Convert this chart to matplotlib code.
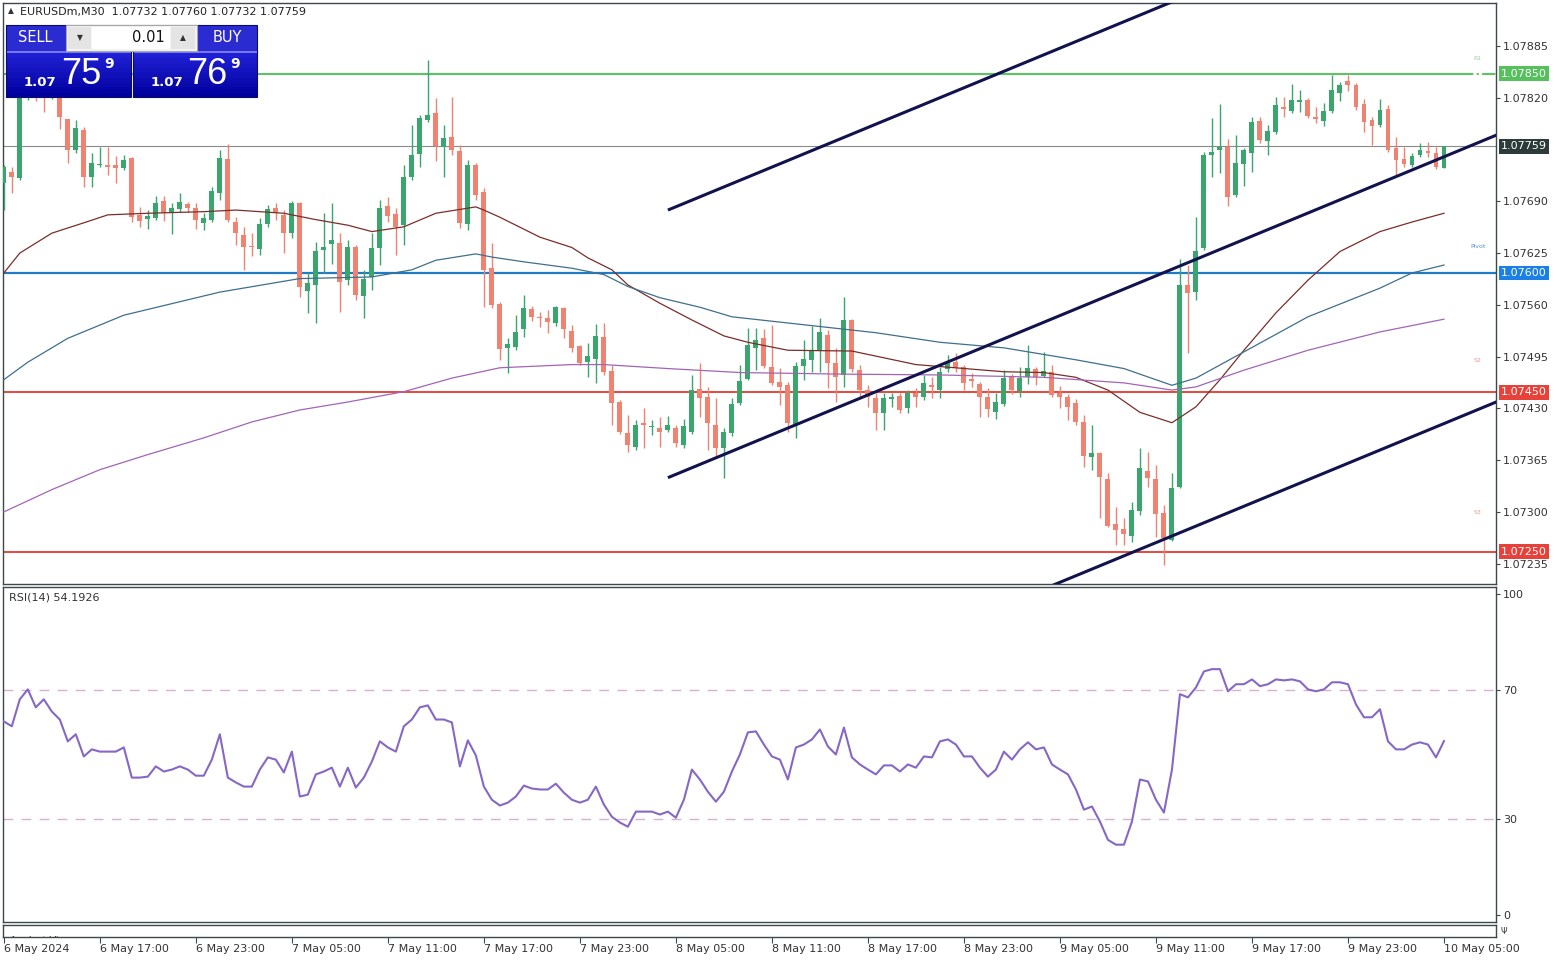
import numpy as np
import pandas as pd
import matplotlib
matplotlib.use("Agg")
from matplotlib import pyplot as plt
from matplotlib.patches import Rectangle

# EURUSDm M30, 6 May 11:00 .. 10 May 05:00
opens = [
    1.07713, 1.07727, 1.07719, 1.07824, 1.07832, 1.07827, 1.07822, 1.07830, 1.07793, 1.07755,
    1.07780, 1.07721, 1.07735, 1.07736, 1.07735, 1.07732, 1.07745, 1.07673, 1.07668, 1.07669,
    1.07690, 1.07675, 1.07680, 1.07687, 1.07682, 1.07663, 1.07667, 1.07701, 1.07743, 1.07664,
    1.07648, 1.07634, 1.07630, 1.07662, 1.07682, 1.07673, 1.07650, 1.07688, 1.07578, 1.07585,
    1.07629, 1.07637, 1.07638, 1.07591, 1.07633, 1.07571, 1.07595, 1.07632, 1.07684, 1.07674,
    1.07660, 1.07721, 1.07750, 1.07792, 1.07801, 1.07758, 1.07771, 1.07753, 1.07662, 1.07735,
    1.07702, 1.07606, 1.07561, 1.07506, 1.07507, 1.07530, 1.07555, 1.07545, 1.07544, 1.07537,
    1.07556, 1.07527, 1.07508, 1.07488, 1.07492, 1.07520, 1.07477, 1.07438, 1.07399, 1.07382,
    1.07412, 1.07407, 1.07405, 1.07403, 1.07405, 1.07384, 1.07400, 1.07454, 1.07444, 1.07409,
    1.07380, 1.07399, 1.07437, 1.07467, 1.07506, 1.07518, 1.07482, 1.07463, 1.07459, 1.07410,
    1.07483, 1.07491, 1.07502, 1.07522, 1.07487, 1.07472, 1.07541, 1.07478, 1.07453, 1.07443,
    1.07424, 1.07442, 1.07446, 1.07431, 1.07449, 1.07444, 1.07459, 1.07453, 1.07480, 1.07488,
    1.07482, 1.07467, 1.07461, 1.07444, 1.07425, 1.07436, 1.07469, 1.07452, 1.07469, 1.07480,
    1.07471, 1.07476, 1.07449, 1.07444, 1.07437, 1.07413, 1.07369, 1.07374, 1.07341, 1.07285,
    1.07279, 1.07270, 1.07301, 1.07351, 1.07341, 1.07299, 1.07265, 1.07331, 1.07585, 1.07576,
    1.07632, 1.07748, 1.07755, 1.07758, 1.07698, 1.07737, 1.07751, 1.07791, 1.07766, 1.07777,
    1.07809, 1.07804, 1.07815, 1.07817, 1.07796, 1.07791, 1.07804, 1.07826, 1.07841, 1.07836,
    1.07812, 1.07792, 1.07786, 1.07806, 1.07757, 1.07743, 1.07735, 1.07748, 1.07753, 1.07751,
    1.07732]
highs = [
    1.07736, 1.07733, 1.07835, 1.07842, 1.07840, 1.07836, 1.07835, 1.07832, 1.07793, 1.07792,
    1.07783, 1.07751, 1.07758, 1.07758, 1.07747, 1.07748, 1.07746, 1.07683, 1.07679, 1.07697,
    1.07697, 1.07688, 1.07701, 1.07689, 1.07688, 1.07675, 1.07708, 1.07755, 1.07762, 1.07670,
    1.07658, 1.07650, 1.07669, 1.07685, 1.07688, 1.07679, 1.07690, 1.07689, 1.07600, 1.07639,
    1.07675, 1.07688, 1.07650, 1.07642, 1.07635, 1.07604, 1.07650, 1.07692, 1.07696, 1.07682,
    1.07736, 1.07786, 1.07799, 1.07868, 1.07820, 1.07786, 1.07821, 1.07761, 1.07742, 1.07738,
    1.07707, 1.07638, 1.07564, 1.07518, 1.07547, 1.07572, 1.07559, 1.07551, 1.07554, 1.07559,
    1.07557, 1.07535, 1.07510, 1.07512, 1.07536, 1.07537, 1.07485, 1.07441, 1.07422, 1.07415,
    1.07431, 1.07415, 1.07419, 1.07420, 1.07409, 1.07417, 1.07472, 1.07487, 1.07457, 1.07443,
    1.07405, 1.07443, 1.07485, 1.07531, 1.07531, 1.07530, 1.07535, 1.07481, 1.07463, 1.07488,
    1.07516, 1.07533, 1.07544, 1.07528, 1.07506, 1.07570, 1.07542, 1.07485, 1.07459, 1.07449,
    1.07449, 1.07449, 1.07449, 1.07453, 1.07456, 1.07472, 1.07469, 1.07482, 1.07497, 1.07500,
    1.07485, 1.07475, 1.07463, 1.07456, 1.07449, 1.07478, 1.07473, 1.07482, 1.07510, 1.07482,
    1.07501, 1.07485, 1.07458, 1.07448, 1.07442, 1.07422, 1.07409, 1.07375, 1.07349, 1.07306,
    1.07292, 1.07312, 1.07380, 1.07375, 1.07359, 1.07309, 1.07349, 1.07618, 1.07610, 1.07670,
    1.07752, 1.07795, 1.07812, 1.07768, 1.07773, 1.07757, 1.07796, 1.07796, 1.07786, 1.07821,
    1.07821, 1.07837, 1.07830, 1.07820, 1.07809, 1.07814, 1.07849, 1.07840, 1.07849, 1.07839,
    1.07819, 1.07796, 1.07819, 1.07811, 1.07771, 1.07758, 1.07751, 1.07763, 1.07765, 1.07758,
    1.07760]
lows = [
    1.07679, 1.07701, 1.07717, 1.07817, 1.07816, 1.07802, 1.07819, 1.07781, 1.07738, 1.07751,
    1.07708, 1.07708, 1.07733, 1.07723, 1.07713, 1.07729, 1.07664, 1.07658, 1.07655, 1.07667,
    1.07665, 1.07649, 1.07677, 1.07677, 1.07655, 1.07654, 1.07664, 1.07692, 1.07664, 1.07635,
    1.07604, 1.07621, 1.07623, 1.07658, 1.07667, 1.07625, 1.07644, 1.07570, 1.07550, 1.07537,
    1.07600, 1.07611, 1.07551, 1.07585, 1.07566, 1.07544, 1.07579, 1.07610, 1.07664, 1.07623,
    1.07635, 1.07717, 1.07733, 1.07790, 1.07740, 1.07721, 1.07748, 1.07657, 1.07654, 1.07692,
    1.07557, 1.07556, 1.07491, 1.07475, 1.07503, 1.07520, 1.07540, 1.07532, 1.07525, 1.07533,
    1.07518, 1.07501, 1.07485, 1.07469, 1.07462, 1.07472, 1.07409, 1.07398, 1.07375, 1.07378,
    1.07380, 1.07397, 1.07382, 1.07400, 1.07382, 1.07380, 1.07398, 1.07419, 1.07378, 1.07368,
    1.07343, 1.07395, 1.07434, 1.07466, 1.07478, 1.07481, 1.07459, 1.07434, 1.07400, 1.07393,
    1.07466, 1.07476, 1.07476, 1.07456, 1.07438, 1.07457, 1.07476, 1.07443, 1.07432, 1.07403,
    1.07403, 1.07432, 1.07424, 1.07424, 1.07432, 1.07441, 1.07443, 1.07443, 1.07476, 1.07476,
    1.07453, 1.07457, 1.07419, 1.07419, 1.07417, 1.07433, 1.07448, 1.07444, 1.07461, 1.07459,
    1.07469, 1.07444, 1.07431, 1.07415, 1.07409, 1.07356, 1.07353, 1.07292, 1.07281, 1.07258,
    1.07258, 1.07262, 1.07296, 1.07331, 1.07268, 1.07233, 1.07264, 1.07330, 1.07500, 1.07566,
    1.07629, 1.07721, 1.07726, 1.07684, 1.07696, 1.07709, 1.07727, 1.07763, 1.07748, 1.07775,
    1.07796, 1.07801, 1.07802, 1.07795, 1.07788, 1.07785, 1.07801, 1.07816, 1.07829, 1.07805,
    1.07777, 1.07761, 1.07783, 1.07752, 1.07723, 1.07733, 1.07733, 1.07746, 1.07746, 1.07731,
    1.07732]
closes = [
    1.07733, 1.07721, 1.07824, 1.07832, 1.07827, 1.07822, 1.07830, 1.07796, 1.07755, 1.07782,
    1.07721, 1.07738, 1.07737, 1.07733, 1.07732, 1.07742, 1.07670, 1.07665, 1.07672, 1.07688,
    1.07675, 1.07682, 1.07689, 1.07682, 1.07667, 1.07669, 1.07703, 1.07745, 1.07667, 1.07650,
    1.07633, 1.07633, 1.07662, 1.07680, 1.07675, 1.07650, 1.07688, 1.07583, 1.07588, 1.07627,
    1.07633, 1.07642, 1.07589, 1.07633, 1.07572, 1.07593, 1.07632, 1.07682, 1.07672, 1.07658,
    1.07721, 1.07748, 1.07795, 1.07799, 1.07760, 1.07770, 1.07755, 1.07663, 1.07735, 1.07698,
    1.07604, 1.07560, 1.07505, 1.07511, 1.07526, 1.07556, 1.07545, 1.07544, 1.07539, 1.07557,
    1.07530, 1.07506, 1.07487, 1.07496, 1.07521, 1.07476, 1.07437, 1.07400, 1.07384, 1.07409,
    1.07409, 1.07408, 1.07400, 1.07409, 1.07387, 1.07408, 1.07453, 1.07443, 1.07412, 1.07380,
    1.07400, 1.07436, 1.07464, 1.07510, 1.07516, 1.07483, 1.07462, 1.07457, 1.07412, 1.07483,
    1.07492, 1.07502, 1.07526, 1.07487, 1.07469, 1.07541, 1.07480, 1.07453, 1.07444, 1.07424,
    1.07443, 1.07444, 1.07428, 1.07449, 1.07444, 1.07462, 1.07457, 1.07476, 1.07488, 1.07481,
    1.07462, 1.07464, 1.07444, 1.07429, 1.07438, 1.07468, 1.07453, 1.07468, 1.07481, 1.07469,
    1.07477, 1.07447, 1.07444, 1.07432, 1.07413, 1.07370, 1.07374, 1.07344, 1.07282, 1.07277,
    1.07272, 1.07302, 1.07355, 1.07343, 1.07297, 1.07267, 1.07330, 1.07585, 1.07575, 1.07627,
    1.07748, 1.07752, 1.07758, 1.07696, 1.07738, 1.07755, 1.07790, 1.07767, 1.07778, 1.07811,
    1.07806, 1.07817, 1.07817, 1.07797, 1.07793, 1.07804, 1.07830, 1.07836, 1.07836, 1.07809,
    1.07790, 1.07785, 1.07805, 1.07755, 1.07742, 1.07737, 1.07747, 1.07755, 1.07751, 1.07733,
    1.07759]
rsi = [
    60.3, 58.8, 67.2, 70.3, 64.7, 67.2, 63.4, 60.9, 54.1, 56.3,
    49.4, 51.6, 50.9, 50.9, 50.9, 52.2, 42.8, 42.8, 43.1, 46.3,
    44.7, 45.3, 46.3, 45.3, 43.4, 43.4, 48.4, 56.3, 42.8, 41.3,
    40.0, 40.0, 45.3, 49.1, 48.4, 44.4, 50.9, 36.9, 37.5, 43.8,
    44.7, 45.9, 40.0, 45.9, 39.7, 42.8, 47.8, 54.1, 52.2, 50.9,
    58.8, 60.9, 64.7, 65.3, 60.9, 60.9, 60.0, 46.3, 54.4, 49.7,
    40.0, 35.9, 34.1, 35.0, 36.9, 40.3, 39.4, 39.1, 39.1, 40.9,
    38.1, 35.9, 35.0, 35.9, 40.0, 34.4, 30.6, 28.8, 27.5, 32.2,
    32.2, 32.2, 31.3, 32.2, 30.3, 35.9, 45.3, 42.2, 38.4, 35.3,
    38.4, 44.7, 50.0, 56.9, 57.2, 53.1, 49.4, 48.4, 42.2, 52.2,
    53.1, 54.7, 57.8, 52.5, 50.0, 58.4, 49.1, 46.9, 45.3, 43.8,
    46.6, 46.6, 44.7, 46.9, 45.9, 49.4, 49.1, 54.1, 54.7, 53.1,
    49.4, 49.4, 45.9, 43.1, 45.3, 50.9, 48.4, 51.6, 53.8, 51.6,
    52.2, 46.9, 45.3, 43.8, 39.1, 32.8, 33.8, 29.1, 23.4, 21.9,
    21.9, 29.1, 42.2, 41.6, 35.9, 31.9, 45.3, 68.8, 67.8, 70.9,
    75.9, 76.6, 76.6, 69.7, 71.9, 71.9, 73.4, 71.3, 71.9, 73.4,
    73.1, 73.4, 72.8, 70.3, 69.7, 70.3, 72.5, 72.5, 71.9, 65.6,
    61.6, 61.6, 64.1, 54.1, 51.6, 51.6, 53.1, 53.8, 53.1, 49.1,
    54.1926]

# moving averages (candle index, price)
ma_fast_idx = [0, 2, 6, 10, 13, 18, 25, 29, 35, 39, 43, 46, 50, 54, 59, 60, 62, 67, 71, 73,
               76, 78, 82, 86, 90, 93, 98, 106, 114, 125, 130, 134, 138, 142, 146, 149, 152,
               155, 159, 163, 167, 172, 176, 180]
ma_fast = [1.07600, 1.07625, 1.07650, 1.07663, 1.07673, 1.07675, 1.07677, 1.07679, 1.07675,
           1.07667, 1.07660, 1.07652, 1.07658, 1.07675, 1.07683, 1.07679, 1.07670, 1.07645,
           1.07632, 1.07619, 1.07604, 1.07585, 1.07562, 1.07541, 1.07521, 1.07513, 1.07503,
           1.07502, 1.07485, 1.07476, 1.07475, 1.07469, 1.07453, 1.07425, 1.07412, 1.07432,
           1.07466, 1.07503, 1.07550, 1.07591, 1.07627, 1.07652, 1.07664, 1.07675]
ma_mid_idx = [0, 3, 8, 15, 27, 37, 46, 51, 54, 59, 61, 65, 71, 75, 78, 82, 87, 91, 100, 109,
              117, 125, 134, 140, 146, 149, 155, 163, 172, 176, 180]
ma_mid = [1.07466, 1.07488, 1.07518, 1.07547, 1.07576, 1.07593, 1.07595, 1.07604, 1.07616,
          1.07624, 1.07620, 1.07614, 1.07606, 1.07598, 1.07583, 1.07569, 1.07557, 1.07545,
          1.07535, 1.07525, 1.07513, 1.07506, 1.07491, 1.07480, 1.07459, 1.07468, 1.07501,
          1.07545, 1.07581, 1.07600, 1.07610]
ma_slow_idx = [0, 6, 12, 18, 25, 31, 37, 43, 50, 56, 62, 71, 75, 83, 92, 105, 117, 130, 140,
               146, 149, 155, 163, 172, 180]
ma_slow = [1.07300, 1.07328, 1.07353, 1.07372, 1.07393, 1.07413, 1.07428, 1.07438, 1.07451,
           1.07468, 1.07481, 1.07485, 1.07485, 1.07480, 1.07475, 1.07473, 1.07472, 1.07469,
           1.07462, 1.07453, 1.07457, 1.07478, 1.07503, 1.07526, 1.07542]

# pivot levels
level_names = ["R1", "Pivot", "S2", "S3"]
level_values = [1.07850, 1.07600, 1.07450, 1.07250]
level_colors = ["#5cc463", "#1f7bc4", "#e8463c", "#e8463c"]
level_label_colors = ["#9ad39c", "#4d94d8", "#e59a92", "#e59a92"]
level_label_off = [15, 26, 32, 39]

# drawn channel (two points per line: candle index, price)
channel_lines = [
    ([83, 150], [1.07679, 1.07957]),
    ([83, 187], [1.07343, 1.07775]),
    ([128, 187], [1.07195, 1.07440]),
]

bid, ask = closes[-1], 1.07769
y_ticks = [1.07885, 1.07820, 1.07690, 1.07625, 1.07560, 1.07495, 1.07430, 1.07365, 1.07300, 1.07235]

GREEN = "#3aa56c"
RED = "#ef8271"
FRAME = "#3d4949"
W, H = 1560, 960

o = np.array(opens)
c = np.array(closes)
h = np.array(highs)
l = np.array(lows)
idx = np.arange(len(c))
times = pd.date_range("2024-05-06 11:00", periods=len(c), freq="30min")


def px_box(x0, y0, x1, y1):
    return [x0 / W, 1 - y1 / H, (x1 - x0) / W, (y1 - y0) / H]


fig = plt.figure(figsize=(W / 100, H / 100), dpi=100, facecolor="white")
ax = fig.add_axes(px_box(3, 3, 1496, 584))
ax_rsi = fig.add_axes(px_box(3, 587, 1496, 922))
ax_av = fig.add_axes(px_box(3, 925, 1496, 937))

for a in (ax, ax_rsi, ax_av):
    a.set_xlim(-0.1, 186.5)
    for s in a.spines.values():
        s.set_color(FRAME)
        s.set_linewidth(1)
    a.tick_params(axis="x", bottom=False, labelbottom=False)
    a.yaxis.tick_right()
    a.tick_params(axis="y", direction="out", length=3, width=0.8, color=FRAME,
                  labelsize=8, labelcolor="#333333", pad=2)

# ---- main price panel
ax.set_ylim(1.072095, 1.07939)
ax.set_yticks(y_ticks)
ax.set_yticklabels([f"{v:.5f}" for v in y_ticks])

up = c >= o
cols = np.where(up, GREEN, RED)
ax.vlines(idx, l, h, colors=cols, lw=1, zorder=3)
ax.bar(idx, np.maximum(np.abs(c - o), 0.000013), bottom=np.minimum(o, c), width=0.62,
       color=cols, lw=0, zorder=4)

ax.plot(ma_fast_idx, ma_fast, color="#7a2e2a", lw=0.9, zorder=5)
ax.plot(ma_mid_idx, ma_mid, color="#3f6f8c", lw=0.9, zorder=5)
ax.plot(ma_slow_idx, ma_slow, color="#a265b5", lw=0.9, zorder=5)

for name, val, col, lcol, off in zip(level_names, level_values, level_colors,
                                     level_label_colors, level_label_off):
    if name == "R1":
        ax.axhline(val, xmax=0.976, color=col, lw=1.5, zorder=2)
        ax.axhline(val, xmin=0.976, color=col, lw=1.5, ls="-.", zorder=2)
    else:
        ax.axhline(val, color=col, lw=1.6 if name == "Pivot" else 1.4, zorder=2)
    ax.annotate(name, xy=(184.2, val), xytext=(0, off), textcoords="offset pixels",
                ha="center", va="center", fontsize=4.5, color=lcol)

ax.axhline(bid, color="#8a8a8a", lw=0.8, zorder=2)

for xs, ys in channel_lines:
    ax.plot(xs, ys, color="#12124e", lw=2.2, zorder=6, solid_capstyle="butt")

tag_vals = level_values + [bid]
tag_cols = ["#55c05c", "#1a80e6", "#e8413a", "#e8413a", "#2c3b39"]
for v, col in zip(tag_vals, tag_cols):
    ax.annotate(f"{v:.5f}", xy=(1.0, v), xycoords=("axes fraction", "data"),
                xytext=(5, 0), textcoords="offset pixels", ha="left", va="center",
                fontsize=8, color="white", annotation_clip=False, zorder=7,
                bbox=dict(boxstyle="square,pad=0.22", fc=col, ec="none"))

# ---- RSI panel
ax_rsi.set_ylim(-2.2, 102.2)
ax_rsi.plot(idx, rsi, color="#8668c4", lw=1.5, zorder=3)
for lv in (70, 30):
    ax_rsi.axhline(lv, color="#dbb0cc", lw=1, ls=(0, (7, 6)), zorder=2)
ax_rsi.set_yticks([0, 30, 70, 100])
ax_rsi.set_yticklabels(["0", "30", "70", "100"])
ax_rsi.text(0.004, 0.97, f"RSI(14) {rsi[-1]:.4f}", transform=ax_rsi.transAxes,
            fontsize=8, color="#333333", va="center", ha="left")

# ---- analyst views strip + time axis
ax_av.set_ylim(0, 1)
ax_av.set_yticks([])
ax_av.text(0.005, -0.35, "Analyst Views", transform=ax_av.transAxes, fontsize=7,
           color="#333333", va="center", ha="left", clip_on=True)
ax_av.text(1.003, 0.45, "\u03a8", transform=ax_av.transAxes, fontsize=6,
           color="#333333", va="center", ha="left")
tick_pos = idx[::12]
tick_lab = [f"{t.day} {t:%b} {t:%H:%M}" for t in times[::12]]
tick_lab[0] = f"{times[0].day} {times[0]:%b %Y}"
ax_av.set_xticks(tick_pos)
ax_av.set_xticklabels(tick_lab)
ax_av.tick_params(axis="x", bottom=True, labelbottom=True, direction="out", length=4,
                  width=0.8, color=FRAME, labelsize=8, labelcolor="#333333", pad=1)
for t in ax_av.get_xticklabels():
    t.set_ha("left")


# ---- header and one-click trading panel
def fig_rect(x0, y0, x1, y1, **kw):
    fig.add_artist(Rectangle((x0 / W, 1 - y1 / H), (x1 - x0) / W, (y1 - y0) / H,
                             transform=fig.transFigure, zorder=10, **kw))


def fig_txt(x, y, s, **kw):
    fig.text(x / W, 1 - y / H, s, zorder=11, **kw)


fig_txt(11, 11, "\u25b2", fontsize=5.5, color="#333333", ha="center", va="center")
fig_txt(20, 12, f"EURUSDm,M30  {opens[-1]:.5f} {highs[-1]:.5f} {lows[-1]:.5f} {closes[-1]:.5f}",
        fontsize=8, color="#222222", ha="left", va="center")

for x0, x1, name, name_x, price in [(6, 131, "SELL", 35, bid), (133, 257, "BUY", 227, ask)]:
    n = 18
    top_c = np.array([0.13, 0.13, 0.84])
    bot_c = np.array([0.0, 0.0, 0.62])
    for k in range(n):
        y0 = 52 + 45 * k / n
        y1 = 52 + 45 * (k + 1) / n
        fig_rect(x0, y0, x1, y1 + 0.5, fc=tuple(top_c + (bot_c - top_c) * k / (n - 1)), ec="none")
    fig_rect(x0, 25, x1, 52, fc="#2b2bd2", ec="none")
    fig_rect(x0, 51.5, x1, 52.5, fc="#7878ee", ec="none")
    fig_rect(x0, 25, x1, 97, fc="none", ec="#0a0a70", lw=0.8)
    fig_txt(name_x, 38, name, fontsize=10.5, color="white", ha="center", va="center")
    s = f"{price:.5f}"
    cx = (x0 + x1) / 2
    fig_txt(cx - 28.5, 82, s[:4], fontsize=9.5, fontweight="bold", color="white",
            ha="center", va="center")
    fig_txt(cx + 12.5, 74, s[4:6], fontsize=26, family="Liberation Sans", color="white",
            ha="center", va="center")
    fig_txt(cx + 40.5, 64, s[6], fontsize=10, fontweight="bold", color="white",
            ha="center", va="center")

# lot size control
fig_rect(66, 25, 197, 51, fc="#f4f4f4", ec="#a8a8a8", lw=0.8)
fig_rect(68, 27, 91, 49, fc="#e4e4e4", ec="none")
fig_rect(171, 27, 195, 49, fc="#e4e4e4", ec="none")
fig_rect(92, 27, 170, 49, fc="white", ec="none")
fig_txt(80, 38, "\u25bc", fontsize=5.5, color="#333333", ha="center", va="center")
fig_txt(183, 38, "\u25b2", fontsize=5.5, color="#333333", ha="center", va="center")
fig_txt(165, 38, "0.01", fontsize=10.5, color="#111111", ha="right", va="center")

fig.savefig("out.png", dpi=100, facecolor="white")
